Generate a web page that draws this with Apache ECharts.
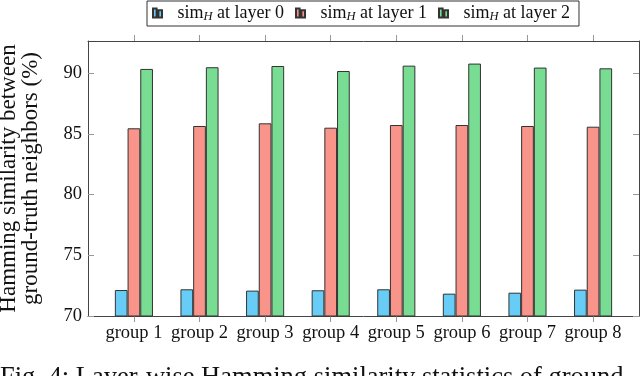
<!DOCTYPE html>
<html>
<head>
<meta charset="utf-8">
<script src="https://cdn.jsdelivr.net/npm/echarts@6/dist/echarts.min.js"></script>
<style>
  html, body { margin: 0; padding: 0; background: #fff; }
  #chart { width: 640px; height: 376px; }
</style>
</head>
<body>
<div id="chart"></div>
<script>
// data
const groups = ['group 1', 'group 2', 'group 3', 'group 4', 'group 5', 'group 6', 'group 7', 'group 8'];
const layer0 = [72.14, 72.20, 72.09, 72.12, 72.20, 71.84, 71.92, 72.17];
const layer1 = [85.46, 85.65, 85.87, 85.51, 85.73, 85.73, 85.65, 85.59];
const layer2 = [90.35, 90.49, 90.59, 90.18, 90.62, 90.79, 90.46, 90.40];
const seriesNames = ['layer 0', 'layer 1', 'layer 2'];
const yTicks = [70, 75, 80, 85, 90];

const positions = groups.map((g, i) => i + 1);
const font = 'Liberation Serif';

const chart = echarts.init(document.getElementById('chart'));

function toPairs(vals) {
  return vals.map((v, i) => [positions[i], v]);
}

const barBase = {
  type: 'bar',
  barWidth: 12.7,
  barGap: '0%',
  xAxisIndex: 0,
  yAxisIndex: 0
};

const option = {
  animation: false,
  grid: { left: 88, right: 1, top: 41, bottom: 60, containLabel: false, outerBoundsMode: 'none' },
  legend: {
    left: 147,
    top: 1,
    itemWidth: 10,
    itemHeight: 9,
    itemGap: 11,
    padding: [3, 9, 3, 5],
    borderColor: '#333',
    borderWidth: 1,
    icon: 'path://M0,0H4V10H0Z M6,2H10V10H6Z',
    data: seriesNames,
    formatter: function (name) {
      return '{p|sim}{s|H}{a| at ' + name + '}';
    },
    textStyle: {
      fontFamily: font,
      color: '#111',
      rich: {
        p: { fontFamily: font, fontSize: 18, lineHeight: 20, color: '#111', padding: [0, 0, 0, 10] },
        a: { fontFamily: font, fontSize: 18, lineHeight: 20, color: '#111' },
        s: { fontFamily: font, fontSize: 12.5, fontStyle: 'italic', lineHeight: 12, verticalAlign: 'bottom', color: '#111' }
      }
    }
  },
  xAxis: [
    {
      type: 'value',
      min: 0.3,
      max: 8.7,
      position: 'bottom',
      axisLine: { lineStyle: { color: '#444', width: 1 } },
      axisTick: { show: true, length: 6, inside: false, customValues: positions, lineStyle: { color: '#999' } },
      axisLabel: {
        customValues: positions,
        formatter: function (v) { return groups[Math.round(v) - 1]; },
        fontFamily: font,
        fontSize: 18.5,
        color: '#111',
        margin: 8
      },
      splitLine: { show: false }
    },
    {
      type: 'value',
      min: 0.3,
      max: 8.7,
      position: 'top',
      axisLine: { show: true, lineStyle: { color: '#444', width: 1 } },
      axisTick: { show: true, length: 6, inside: false, customValues: positions, lineStyle: { color: '#999' } },
      axisLabel: { show: false },
      splitLine: { show: false }
    }
  ],
  yAxis: [
    {
      type: 'value',
      min: 70,
      max: 92.65,
      interval: 5,
      position: 'left',
      name: 'Hamming similarity between\nground-truth neighbors (%)',
      nameLocation: 'middle',
      nameRotate: 90,
      nameGap: 46,
      nameTextStyle: { fontFamily: font, fontSize: 23, lineHeight: 22, color: '#111' },
      axisLine: { show: true, lineStyle: { color: '#444', width: 1 } },
      axisTick: { show: true, inside: true, length: 6, customValues: yTicks, lineStyle: { color: '#999' } },
      axisLabel: { customValues: yTicks, fontFamily: font, fontSize: 18.5, color: '#111', margin: 6 },
      splitLine: { show: false }
    },
    {
      type: 'value',
      min: 70,
      max: 92.65,
      position: 'right',
      axisLine: { show: true, lineStyle: { color: '#444', width: 1 } },
      axisTick: { show: true, inside: true, length: 6, customValues: yTicks, lineStyle: { color: '#999' } },
      axisLabel: { show: false },
      splitLine: { show: false }
    }
  ],
  series: [
    Object.assign({}, barBase, {
      name: seriesNames[0],
      data: toPairs(layer0),
      itemStyle: { color: '#68cdf6', borderColor: '#333', borderWidth: 1 }
    }),
    Object.assign({}, barBase, {
      name: seriesNames[1],
      data: toPairs(layer1),
      itemStyle: { color: '#f9948a', borderColor: '#333', borderWidth: 1 }
    }),
    Object.assign({}, barBase, {
      name: seriesNames[2],
      data: toPairs(layer2),
      itemStyle: { color: '#78dd92', borderColor: '#333', borderWidth: 1 }
    })
  ],
  graphic: [
    {
      type: 'text',
      left: 0,
      top: 365,
      style: {
        text: 'Fig. 4: Layer-wise Hamming similarity statistics of ground-',
        fontFamily: font,
        fontSize: 26.5,
        fill: '#111'
      }
    }
  ]
};

chart.setOption(option);
</script>
</body>
</html>
